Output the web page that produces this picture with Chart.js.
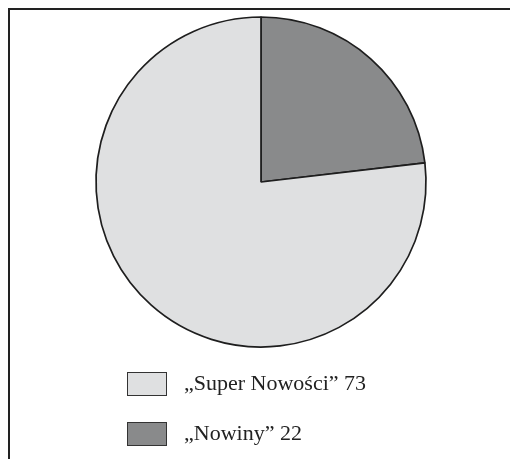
<!DOCTYPE html>
<html>
<head>
<meta charset="utf-8">
<script src="https://cdn.jsdelivr.net/npm/chart.js@4/dist/chart.umd.min.js"></script>
<style>
  html, body { margin: 0; padding: 0; background: #fff; }
  #wrap { position: relative; width: 510px; height: 459px; overflow: hidden; }
  #frame { position: absolute; left: 8px; top: 8px; width: 600px; height: 600px;
           border-top: 2px solid #222; border-left: 2px solid #222; }
  #c { position: absolute; left: 0; top: 0; }
  .item { position: absolute; left: 127px; height: 25px; }
  .box { position: absolute; left: 0; top: 0; width: 38px; height: 22px; border: 1.5px solid #333; }
  .lbl { position: absolute; left: 57px; top: -3px; white-space: nowrap;
         font-family: "Liberation Serif", "Times New Roman", serif; font-size: 22px; line-height: 28px; color: #222; }
</style>
</head>
<body>
<div id="wrap">
  <div id="frame"></div>
  <canvas id="c" width="510" height="459"></canvas>
  <div id="legend"></div>
</div>
<script>
const categories = ["\u201ESuper Nowo\u015Bci\u201D", "\u201ENowiny\u201D"];
const values = [73, 22];
const colors = ["#dfe0e1", "#898a8b"];

// legend (HTML, real text), in the original order
const legendTops = [372, 422];
const legend = document.getElementById('legend');
categories.forEach((c, i) => {
  const it = document.createElement('div');
  it.className = 'item';
  it.style.top = legendTops[i] + 'px';
  const b = document.createElement('div');
  b.className = 'box';
  b.style.background = colors[i];
  const t = document.createElement('div');
  t.className = 'lbl';
  t.textContent = c + ' ' + values[i];
  it.appendChild(b); it.appendChild(t);
  legend.appendChild(it);
});

// pie: dark slice first so it starts at 12 o'clock going clockwise
const order = [1, 0];
new Chart(document.getElementById('c'), {
  type: 'pie',
  data: {
    labels: order.map(i => categories[i]),
    datasets: [{
      data: order.map(i => values[i]),
      backgroundColor: order.map(i => colors[i]),
      borderColor: '#1e1e1e',
      borderWidth: 1.7,
      radius: 165
    }]
  },
  options: {
    responsive: false,
    animation: false,
    layout: { padding: { left: 12, right: 0, top: 0, bottom: 95 } },
    plugins: { legend: { display: false }, tooltip: { enabled: false } }
  }
});
</script>
</body>
</html>
